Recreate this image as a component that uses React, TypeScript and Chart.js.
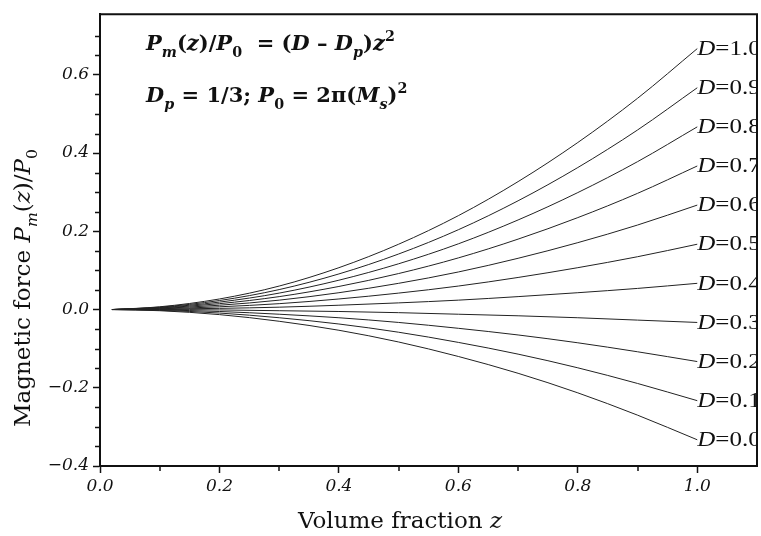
import { useEffect, useRef } from "react";
import { Chart, registerables } from "chart.js";

Chart.register(...registerables);

// Volume fraction z (x positions of the sampled points)
const zValues = [0.02, 0.1, 0.2, 0.3, 0.4, 0.5, 0.6, 0.7, 0.8, 0.9, 1.0];

// Demagnetisation factor labels, one per curve
const dLabels = ["0.0", "0.1", "0.2", "0.3", "0.4", "0.5", "0.6", "0.7", "0.8", "0.9", "1.0"];

// Magnetic force Pm(z)/P0, one array per curve
const forceD00 = [0, -0.003, -0.013, -0.03, -0.053, -0.083, -0.12, -0.163, -0.213, -0.27, -0.333];
const forceD01 = [0, -0.002, -0.009, -0.021, -0.037, -0.058, -0.084, -0.114, -0.149, -0.189, -0.233];
const forceD02 = [0, -0.001, -0.005, -0.012, -0.021, -0.033, -0.048, -0.065, -0.085, -0.108, -0.133];
const forceD03 = [0, 0, -0.001, -0.003, -0.005, -0.008, -0.012, -0.016, -0.021, -0.027, -0.033];
const forceD04 = [0, 0.001, 0.003, 0.006, 0.011, 0.017, 0.024, 0.033, 0.043, 0.054, 0.067];
const forceD05 = [0, 0.002, 0.007, 0.015, 0.027, 0.042, 0.06, 0.082, 0.107, 0.135, 0.167];
const forceD06 = [0, 0.003, 0.011, 0.024, 0.043, 0.067, 0.096, 0.131, 0.171, 0.216, 0.267];
const forceD07 = [0, 0.004, 0.015, 0.033, 0.059, 0.092, 0.132, 0.18, 0.235, 0.297, 0.367];
const forceD08 = [0, 0.005, 0.019, 0.042, 0.075, 0.117, 0.168, 0.229, 0.299, 0.378, 0.467];
const forceD09 = [0, 0.006, 0.023, 0.051, 0.091, 0.142, 0.204, 0.278, 0.363, 0.459, 0.567];
const forceD10 = [0, 0.007, 0.027, 0.06, 0.107, 0.167, 0.24, 0.327, 0.427, 0.54, 0.667];

const allForces = [forceD00, forceD01, forceD02, forceD03, forceD04, forceD05, forceD06, forceD07, forceD08, forceD09, forceD10];

// Axis tick values
const xMajorTicks = [0.0, 0.2, 0.4, 0.6, 0.8, 1.0];
const xMinorTicks = [0.1, 0.3, 0.5, 0.7, 0.9];
const yMajorTicks = [-0.4, -0.2, 0.0, 0.2, 0.4, 0.6];
const yMinorTicks = [-0.35, -0.3, -0.25, -0.15, -0.1, -0.05, 0.05, 0.1, 0.15, 0.25, 0.3, 0.35, 0.45, 0.5, 0.55, 0.65, 0.7];

const SERIF = "'DejaVu Serif', serif";
const TIMES = "'Liberation Serif', serif";
const INK = "#111";

type Seg = { t: string; it?: boolean; b?: boolean; sub?: boolean; sup?: boolean };

function segFont(s: Seg, size: number, family: string) {
  const fs = s.sub || s.sup ? size * 0.68 : size;
  return `${s.it ? "italic " : ""}${s.b ? "bold " : ""}${fs}px ${family}`;
}

function richWidth(ctx: CanvasRenderingContext2D, segs: Seg[], size: number, family: string) {
  let w = 0;
  for (const s of segs) {
    ctx.font = segFont(s, size, family);
    w += ctx.measureText(s.t).width;
  }
  return w;
}

function drawRich(ctx: CanvasRenderingContext2D, segs: Seg[], x: number, y: number, size: number, family: string) {
  let cx = x;
  for (const s of segs) {
    ctx.font = segFont(s, size, family);
    const dy = s.sub ? size * 0.32 : s.sup ? -size * 0.42 : 0;
    ctx.fillText(s.t, cx, y + dy);
    cx += ctx.measureText(s.t).width;
  }
}

const yTitle: Seg[] = [
  { t: "Magnetic force " },
  { t: "P", it: true },
  { t: "m", it: true, sub: true },
  { t: "(" },
  { t: "z", it: true },
  { t: ")/" },
  { t: "P", it: true },
  { t: "0", sub: true },
];
const xTitle: Seg[] = [{ t: "Volume fraction " }, { t: "z", it: true }];
const formula1: Seg[] = [
  { t: "P", it: true, b: true },
  { t: "m", it: true, b: true, sub: true },
  { t: "(", b: true },
  { t: "z", it: true, b: true },
  { t: ")/", b: true },
  { t: "P", it: true, b: true },
  { t: "0", b: true, sub: true },
  { t: "  = (", b: true },
  { t: "D", it: true, b: true },
  { t: " \u2013 ", b: true },
  { t: "D", it: true, b: true },
  { t: "p", it: true, b: true, sub: true },
  { t: ")", b: true },
  { t: "z", it: true, b: true },
  { t: "2", b: true, sup: true },
];
const formula2: Seg[] = [
  { t: "D", it: true, b: true },
  { t: "p", it: true, b: true, sub: true },
  { t: " = 1/3; ", b: true },
  { t: "P", it: true, b: true },
  { t: "0", b: true, sub: true },
  { t: " = 2\u03c0(", b: true },
  { t: "M", it: true, b: true },
  { t: "s", it: true, b: true, sub: true },
  { t: ")", b: true },
  { t: "2", b: true, sup: true },
];

const decorPlugin = {
  id: "decor",
  afterDatasetsDraw(chart: any) {
    const ctx: CanvasRenderingContext2D = chart.ctx;
    const area = chart.chartArea;
    // curve end labels
    ctx.save();
    ctx.beginPath();
    ctx.rect(0, 0, area.right, chart.height);
    ctx.clip();
    ctx.fillStyle = INK;
    ctx.textBaseline = "middle";
    chart.data.datasets.forEach((ds: any, i: number) => {
      const meta = chart.getDatasetMeta(i);
      const last = meta.data[meta.data.length - 1];
      ctx.save();
      ctx.translate(last.x, last.y + 1);
      ctx.scale(1.25, 1);
      drawRich(ctx, [{ t: "D", it: true }, { t: "=" + dLabels[i] }], 0, 0, 20, TIMES);
      ctx.restore();
    });
    ctx.restore();
  },
  afterDraw(chart: any) {
    const ctx: CanvasRenderingContext2D = chart.ctx;
    const area = chart.chartArea;
    const xs = chart.scales.x;
    const ys = chart.scales.y;
    ctx.save();
    // frame top/right
    ctx.strokeStyle = INK;
    ctx.lineWidth = 2;
    ctx.beginPath();
    ctx.moveTo(area.left, area.top);
    ctx.lineTo(area.right, area.top);
    ctx.lineTo(area.right, area.bottom);
    ctx.stroke();
    // minor ticks
    ctx.lineWidth = 1.5;
    ctx.beginPath();
    for (const v of xMinorTicks) {
      const px = Math.round(xs.getPixelForValue(v));
      ctx.moveTo(px, area.bottom);
      ctx.lineTo(px, area.bottom + 5);
    }
    for (const v of yMinorTicks) {
      const py = Math.round(ys.getPixelForValue(v)) + 0.5;
      ctx.moveTo(area.left, py);
      ctx.lineTo(area.left - 5, py);
    }
    ctx.stroke();
    // formula text
    ctx.fillStyle = INK;
    ctx.textBaseline = "alphabetic";
    drawRich(ctx, formula1, 146, 50, 21, SERIF);
    drawRich(ctx, formula2, 146, 102, 21, SERIF);
    // axis titles
    const wx = richWidth(ctx, xTitle, 23, SERIF);
    drawRich(ctx, xTitle, 400 - wx / 2, 528, 23, SERIF);
    const wy = richWidth(ctx, yTitle, 23, SERIF);
    ctx.translate(30, 288);
    ctx.rotate(-Math.PI / 2);
    drawRich(ctx, yTitle, -wy / 2, 0, 23, SERIF);
    ctx.restore();
  },
};

export default function App() {
  const canvasRef = useRef<HTMLCanvasElement | null>(null);

  useEffect(() => {
    if (!canvasRef.current) return;
    const datasets = allForces.map((vals, i) => ({
      label: "D=" + dLabels[i],
      data: vals.map((v, j) => ({ x: zValues[j], y: v })),
      borderColor: "#222",
      borderWidth: 1,
      pointRadius: 0,
      fill: false,
      cubicInterpolationMode: "monotone" as const,
    }));
    const tickFont = { family: SERIF, size: 17, style: "italic" as const };
    const chart = new Chart(canvasRef.current, {
      type: "line",
      data: { datasets },
      options: {
        animation: false,
        responsive: false,
        events: [],
        layout: { padding: { top: 8, right: 4, left: 0, bottom: 0 } },
        plugins: { legend: { display: false }, tooltip: { enabled: false }, title: { display: false } },
        scales: {
          x: {
            type: "linear",
            min: 0,
            max: 1.1,
            afterFit: (s: any) => {
              s.height = 70;
            },
            afterBuildTicks: (s: any) => {
              s.ticks = xMajorTicks.map((v) => ({ value: v }));
            },
            ticks: {
              includeBounds: false,
              callback: (v: any) => Number(v).toFixed(1),
              font: tickFont,
              color: INK,
              padding: 3,
              maxRotation: 0,
              autoSkip: false,
            },
            grid: { drawOnChartArea: false, tickLength: 7, tickColor: INK, tickWidth: 1.5, color: INK },
            border: { display: true, color: INK, width: 2 },
          },
          y: {
            type: "linear",
            min: -0.4,
            max: 0.755,
            afterFit: (s: any) => {
              s.width = 100;
            },
            afterBuildTicks: (s: any) => {
              s.ticks = yMajorTicks.map((v) => ({ value: v }));
            },
            ticks: {
              includeBounds: false,
              callback: (v: any) => {
                const n = Number(v);
                const s = Math.abs(n).toFixed(1);
                return n < -1e-9 ? "\u2212" + s : s;
              },
              font: tickFont,
              color: INK,
              padding: 4,
              autoSkip: false,
            },
            grid: { drawOnChartArea: false, tickLength: 7, tickColor: INK, tickWidth: 1.5, color: INK },
            border: { display: true, color: INK, width: 2 },
          },
        },
      },
      plugins: [decorPlugin],
    });
    return () => chart.destroy();
  }, []);

  return (
    <div style={{ position: "fixed", left: 0, top: 0, width: 761, height: 536, background: "#fff" }}>
      <canvas ref={canvasRef} width={761} height={536} style={{ display: "block" }} />
    </div>
  );
}
